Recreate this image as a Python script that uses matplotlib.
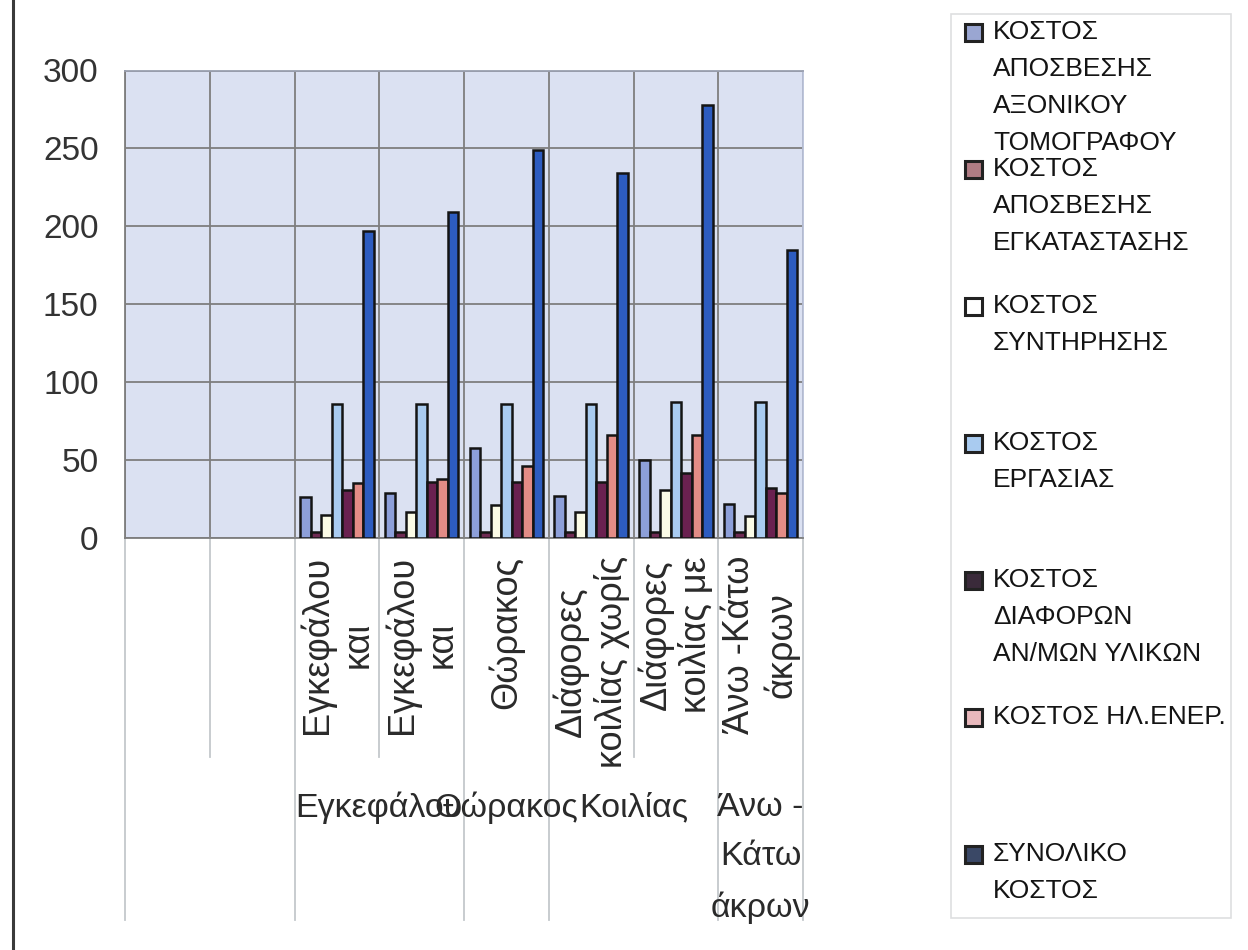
import numpy as np
import matplotlib
matplotlib.use("Agg")
import matplotlib.pyplot as plt
from matplotlib.patches import Rectangle
from matplotlib.lines import Line2D

plt.rcParams['font.family'] = ['Liberation Sans', 'DejaVu Sans']

# ---------------- data ----------------
n_empty = 2  # two leading empty category slots
inner_labels = ['Εγκεφάλου\nκαι', 'Εγκεφάλου\nκαι', 'Θώρακος',
                'Διάφορες\nκοιλίας χωρίς', 'Διάφορες\nκοιλίας με', 'Άνω -Κάτω\nάκρων']
outer_labels = ['Εγκεφάλου', 'Θώρακος', 'Κοιλίας', 'Άνω -\nΚάτω\nάκρων']
outer_sizes = [2, 1, 2, 1]   # number of inner categories in each outer group

series_names = ['ΚΟΣΤΟΣ\nΑΠΟΣΒΕΣΗΣ\nΑΞΟΝΙΚΟΥ\nΤΟΜΟΓΡΑΦΟΥ',
                'ΚΟΣΤΟΣ\nΑΠΟΣΒΕΣΗΣ\nΕΓΚΑΤΑΣΤΑΣΗΣ',
                'ΚΟΣΤΟΣ\nΣΥΝΤΗΡΗΣΗΣ',
                'ΚΟΣΤΟΣ\nΕΡΓΑΣΙΑΣ',
                'ΚΟΣΤΟΣ\nΔΙΑΦΟΡΩΝ\nΑΝ/ΜΩΝ ΥΛΙΚΩΝ',
                'ΚΟΣΤΟΣ ΗΛ.ΕΝΕΡ.',
                'ΣΥΝΟΛΙΚΟ\nΚΟΣΤΟΣ']
cost_ct_depr = [26, 29, 58, 27, 50, 22]
cost_inst_depr = [4, 4, 4, 4, 4, 4]
cost_maint = [15, 17, 21, 17, 31, 14]
cost_labor = [86, 86, 86, 86, 87, 87]
cost_materials = [31, 36, 36, 36, 42, 32]
cost_power = [35, 38, 46, 66, 66, 29]
cost_total = [197, 209, 249, 234, 278, 185]
series_values = [cost_ct_depr, cost_inst_depr, cost_maint, cost_labor,
                 cost_materials, cost_power, cost_total]
yticks = [0, 50, 100, 150, 200, 250, 300]

colors = ['#8d9fd9', '#6e2a52', '#fbfbe6', '#a9cbf0', '#6a2150', '#e38c86', '#2d5cc0']
legend_colors = ['#9aa6d2', '#b07c84', '#ffffff', '#a9cbf0', '#3a2a3a', '#e8b8bc', '#3a4866']

# ---------------- figure ----------------
W, H = 1248, 950
fig = plt.figure(figsize=(W / 100, H / 100), dpi=100)
fig.patch.set_facecolor('white')

ax_l, ax_r, ax_t, ax_b = 125, 803, 70.5, 538
ax = fig.add_axes([ax_l / W, 1 - ax_b / H, (ax_r - ax_l) / W, (ax_b - ax_t) / H])
ax.set_facecolor('#dbe1f2')

n_cat = n_empty + len(inner_labels)
x = np.arange(n_empty, n_cat)
n_ser = len(series_values)
bw = 0.124
for i, vals in enumerate(series_values):
    ax.bar(x + (i - (n_ser - 1) / 2) * bw, vals, width=bw, color=colors[i],
           edgecolor='#141414', linewidth=1.8, zorder=3)

ax.set_xlim(-0.5, n_cat - 0.5)
ax.set_ylim(yticks[0], yticks[-1])
ax.set_yticks(yticks)
ax.set_yticklabels([str(v) for v in yticks], fontsize=24, color='#333333')
ax.tick_params(axis='y', length=0, pad=19)
ax.set_xticks([])
ax.set_xticks(np.arange(-0.5, n_cat, 1), minor=True)
ax.tick_params(axis='x', which='both', length=0, labelbottom=False)
ax.grid(axis='y', which='major', color='#7e7e7e', linewidth=1.3, zorder=1)
ax.grid(axis='x', which='minor', color='#7e7e7e', linewidth=1.3, zorder=1)
ax.set_axisbelow(True)
for side, sp in ax.spines.items():
    sp.set_color('#7e7e7e')
    sp.set_linewidth(1.3)
ax.spines['right'].set_color('#b8c0d8')
ax.spines['top'].set_color('#9aa0b0')

# ---- category axis labels (multi-level) ----
trans = ax.get_xaxis_transform()
ax_h = ax_b - ax_t
def ay(py):
    return (ax_b - py) / ax_h

# separators under the axis
group_edges = [-0.5, n_empty - 0.5]
pos = n_empty - 0.5
for s in outer_sizes:
    pos += s
    group_edges.append(pos)
for b in np.arange(-0.5, n_cat, 1):
    long_line = any(abs(b - g) < 1e-6 for g in group_edges)
    y_end = ay(920) if long_line else ay(757)
    ax.add_line(Line2D([b, b], [0, y_end], transform=trans, color='#c4c8cc',
                       linewidth=1.3, clip_on=False))

for xi, lab in zip(x, inner_labels):
    ax.text(xi, ay(556), lab, transform=trans, rotation=90, ha='center', va='top',
            multialignment='center', fontsize=26, color='#2a2a2a', linespacing=1.2)

start = n_empty
for lab, s in zip(outer_labels, outer_sizes):
    cx = start + (s - 1) / 2
    ax.text(cx, ay(792), lab, transform=trans, ha='center', va='top',
            multialignment='center', fontsize=24.5, color='#2a2a2a', linespacing=1.75)
    start += s

# ---- legend (manual, Excel-like) ----
fig.add_artist(Rectangle((951 / W, 1 - 918 / H), (1231 - 951) / W, (918 - 14) / H,
                         transform=fig.transFigure, fill=False, edgecolor='#dedfe0',
                         linewidth=1.2))
first_line_y = 32
step = 137
for i, name in enumerate(series_names):
    yc = first_line_y + i * step
    fig.add_artist(Rectangle((965 / W, 1 - (yc + 9) / H), 17 / W, 17 / H,
                             transform=fig.transFigure, facecolor=legend_colors[i],
                             edgecolor='#222222', linewidth=2.2))
    fig.text(993 / W, 1 - (yc - 12) / H, name, ha='left', va='top', fontsize=19,
             color='#141414', linespacing=1.68)

# left frame line
fig.add_artist(Line2D([13 / W, 13 / W], [0, 1], transform=fig.transFigure,
                      color='#3a3a3a', linewidth=2.2))

fig.savefig('out.png', dpi=100)
